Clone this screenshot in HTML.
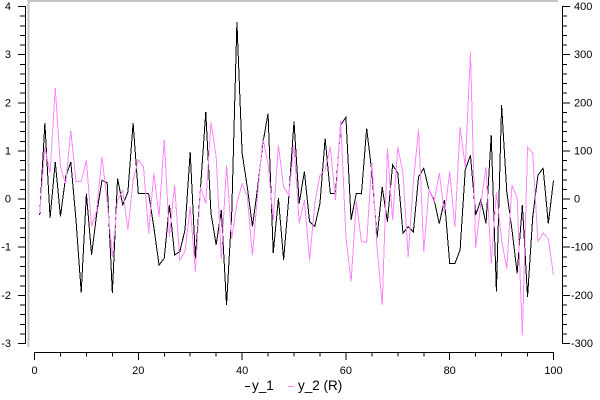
<!DOCTYPE html>
<html>
<head>
<meta charset="utf-8">
<style>
  html,body{margin:0;padding:0;background:#fff;}
  svg{display:block;}
  text{font-family:"Liberation Sans",Arial,sans-serif;}
</style>
</head>
<body>
<svg width="600" height="400" viewBox="0 0 600 400" xmlns="http://www.w3.org/2000/svg">
  <rect x="0" y="0" width="600" height="400" fill="#ffffff"/>
  <!-- plot frame (gray inset top/left) -->
  <rect x="28" y="0" width="530" height="2" fill="#c4c4c4"/>
  <rect x="27.5" y="0" width="2" height="347" fill="#c4c4c4"/>

  <!-- series y_1 (black, left axis) -->
  <g transform="matrix(5.19 0 0 -48.14 34.5 198.6)">
    <polyline fill="none" stroke="#000" stroke-width="1" vector-effect="non-scaling-stroke" shape-rendering="crispEdges" stroke-linejoin="miter"
      points="1,-0.34 2,1.57 3,-0.4 4,0.76 5,-0.37 6,0.45 7,0.76 8,-0.45 9,-1.95 10,0.1 11,-1.17 12,-0.3 13,0.38 14,0.33 15,-1.96 16,0.42 17,-0.13 18,0.14 19,1.57 20,0.11 21,0.11 22,0.1 23,-0.6 24,-1.38 25,-1.24 26,-0.13 27,-1.17 28,-1.1 29,-0.65 30,0.97 31,-1.24 32,0.24 33,1.8 34,-0.3 35,-0.96 36,-0.24 37,-2.21 38,-0.3 39,3.67 40,0.95 41,0.24 42,-0.58 43,0.24 44,1.15 45,1.77 46,-1.13 47,0.01 48,-1.27 49,0.03 50,1.6 51,-0.1 52,0.56 53,-0.48 54,-0.58 55,-0.1 56,1.25 57,0.11 58,0.11 59,1.53 60,1.69 61,-0.44 62,0.11 63,0.1 64,1.46 65,0.55 66,-0.82 67,0.24 68,-0.48 69,0.7 70,0.53 71,-0.72 72,-0.58 73,-0.69 74,0.45 75,0.63 76,0.18 77,-0.03 78,-0.52 79,-0.03 80,-1.35 81,-1.35 82,-1.07 83,0.6 84,0.9 85,-0.34 86,-0.03 87,-0.52 88,1.32 89,-1.93 90,1.94 91,0.14 92,-0.65 93,-1.55 94,-0.13 95,-2.04 96,-0.38 97,0.49 98,0.63 99,-0.52 100,0.38"/>
  </g>

  <!-- series y_2 (pink, right axis) -->
  <g transform="matrix(5.19 0 0 -0.4814 34.5 198.6)">
    <polyline fill="none" stroke="#ff88ff" stroke-width="1" vector-effect="non-scaling-stroke" shape-rendering="crispEdges" stroke-linejoin="miter"
      points="1,-30 2,107 3,53 4,230 5,66 6,30 7,141 8,35 9,36 10,80 11,-58 12,-24 13,87 14,-5 15,-121 16,-3 17,17 18,-65 19,38 20,80 21,66 22,-72 23,53 24,-38 25,122 26,-79 27,28 28,-128 29,-110 30,-17 31,-152 32,24 33,-10 34,159 35,87 36,-125 37,70 38,-83 39,-10 40,31 41,4 42,-118 43,11 44,125 45,73 46,-44 47,111 48,24 49,7 50,111 51,-51 52,-3 53,-128 54,-10 55,49 56,59 57,107 58,-3 59,163 60,-79 61,-173 62,-6 63,-89 64,-91 65,76 66,-100 67,-221 68,104 69,-44 70,107 71,53 72,-121 73,35 74,144 75,-110 76,18 77,-6 78,53 79,-31 80,56 81,-59 82,149 83,66 84,305 85,-103 86,-10 87,66 88,-135 89,14 90,-86 91,-145 92,28 93,1 94,-284 95,107 96,94 97,-89 98,-72 99,-83 100,-159"/>
  </g>

  <!-- axes -->
  <g stroke="#000" stroke-width="1" fill="none" shape-rendering="crispEdges">
    <!-- left axis -->
    <path d="M25.5,6V344"/>
    <path d="M18,6.5H26M18,54.7H26M18,102.8H26M18,151H26M18,199.1H26M18,247.2H26M18,295.4H26M18,343.5H26"/>
    <path d="M20,16.2H26M20,25.8H26M20,35.4H26M20,45.1H26M20,64.3H26M20,73.9H26M20,83.6H26M20,93.2H26M20,112.5H26M20,122.1H26M20,131.7H26M20,141.3H26M20,160.6H26M20,170.2H26M20,179.8H26M20,189.5H26M20,208.7H26M20,218.4H26M20,228H26M20,237.6H26M20,256.9H26M20,266.5H26M20,276.1H26M20,285.8H26M20,305H26M20,314.6H26M20,324.3H26M20,333.9H26"/>
    <!-- right axis -->
    <path d="M562.5,6V344"/>
    <path d="M562,6.5H570M562,54.7H570M562,102.8H570M562,151H570M562,199.1H570M562,247.2H570M562,295.4H570M562,343.5H570"/>
    <path d="M562,16.2H567M562,25.8H567M562,35.4H567M562,45.1H567M562,64.3H567M562,73.9H567M562,83.6H567M562,93.2H567M562,112.5H567M562,122.1H567M562,131.7H567M562,141.3H567M562,160.6H567M562,170.2H567M562,179.8H567M562,189.5H567M562,208.7H567M562,218.4H567M562,228H567M562,237.6H567M562,256.9H567M562,266.5H567M562,276.1H567M562,285.8H567M562,305H567M562,314.6H567M562,324.3H567M562,333.9H567"/>
    <!-- bottom axis -->
    <path d="M34,352.5H554"/>
    <path d="M34.5,352V360M138.3,352V360M242.1,352V360M345.9,352V360M449.7,352V360M553.5,352V360"/>
    <path d="M60.5,352V356.5M86.4,352V356.5M112.4,352V356.5M164.3,352V356.5M190.2,352V356.5M216.2,352V356.5M268.1,352V356.5M294,352V356.5M320,352V356.5M371.9,352V356.5M397.8,352V356.5M423.8,352V356.5M475.7,352V356.5M501.6,352V356.5M527.6,352V356.5"/>
  </g>

  <!-- left tick labels -->
  <g font-size="11" fill="#000" text-anchor="end">
    <text x="11" y="10">4</text>
    <text x="11" y="58.2">3</text>
    <text x="11" y="106.3">2</text>
    <text x="11" y="154.5">1</text>
    <text x="11" y="202.6">0</text>
    <text x="11" y="250.7">-1</text>
    <text x="11" y="298.9">-2</text>
    <text x="11" y="347">-3</text>
  </g>
  <!-- right tick labels -->
  <g font-size="11" fill="#000" text-anchor="start">
    <text x="574" y="10">400</text>
    <text x="574" y="58.2">300</text>
    <text x="574" y="106.3">200</text>
    <text x="574" y="154.5">100</text>
    <text x="574" y="202.6">0</text>
    <text x="571" y="250.7">-100</text>
    <text x="571" y="298.9">-200</text>
    <text x="571" y="347">-300</text>
  </g>
  <!-- bottom tick labels -->
  <g font-size="11" fill="#000" text-anchor="middle">
    <text x="34.5" y="374">0</text>
    <text x="138.3" y="374">20</text>
    <text x="242.1" y="374">40</text>
    <text x="345.9" y="374">60</text>
    <text x="449.7" y="374">80</text>
    <text x="553.5" y="374">100</text>
  </g>

  <!-- legend -->
  <g shape-rendering="crispEdges">
    <line x1="245" y1="386.5" x2="250" y2="386.5" stroke="#000" stroke-width="1"/>
    <line x1="288" y1="386.5" x2="294" y2="386.5" stroke="#ff88ff" stroke-width="1"/>
  </g>
  <g font-size="13.5" fill="#000">
    <text x="252" y="390">y_1</text>
    <text x="298" y="390">y_2 (R)</text>
  </g>
</svg>
</body>
</html>
